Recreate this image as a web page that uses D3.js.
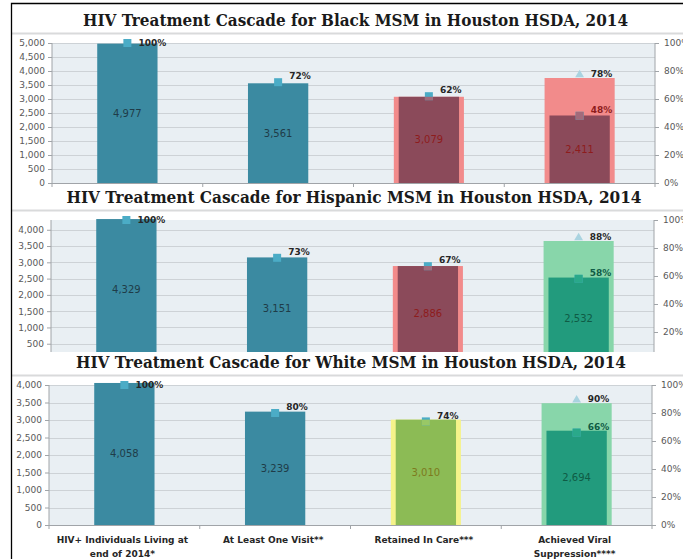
<!DOCTYPE html>
<html>
<head>
<meta charset="utf-8">
<script src="https://cdn.jsdelivr.net/npm/d3@7"></script>
<style>
  body { margin: 0; background: #fff; }
  svg text { font-family: "DejaVu Sans", sans-serif; }
</style>
</head>
<body>
<div id="chart"></div>
<script>
// ---- data ----
var categories = ["HIV+ Individuals Living at end of 2014*", "At Least One Visit**", "Retained In Care***", "Achieved Viral Suppression****"];
var categoryLines = [["HIV+ Individuals Living at", "end of 2014*"], ["At Least One Visit**"], ["Retained In Care***"], ["Achieved Viral", "Suppression****"]];
var titles = ["HIV Treatment Cascade for Black MSM in Houston HSDA, 2014",
              "HIV Treatment Cascade for Hispanic MSM in Houston HSDA, 2014",
              "HIV Treatment Cascade for White MSM in Houston HSDA, 2014"];
var blackCounts = [4977, 3561, 3079, 2411];
var hispanicCounts = [4329, 3151, 2886, 2532];
var whiteCounts = [4058, 3239, 3010, 2694];
var blackPct = [100, 72, 62, 48];
var hispanicPct = [100, 73, 67, 58];
var whitePct = [100, 80, 74, 66];
// suppressed among those retained in care (triangle) and the wide bar behind column 4
var suppressedOfRetained = [78, 88, 90];
var highlightPct = [75, 85, 87];
var countMax = [5000, 4300, 4000];
var pctTicks = [0, 20, 40, 60, 80, 100];
// highlight colour of columns 3 and 4 in each panel
var highlights = [["pink", "pink"], ["pink", "green"], ["yellow", "green"]];

var width = 683, height = 559;
var plotH = 140, plotW = 603;
var plotTop = [43, 220, 385];
var plotLeft = [52, 51, 49];
var titleY = [26, 203, 368];
var titleX = [355.5, 354, 351];
var titleW = [545, 575, 550];
var headerTop = [4, 187, 352];

var teal = "#3b8aa1", marker = "#4bacc6";
var hl = {
  pink:   { wide: "#f28b8b", bar: "#8b4a5a", text: "#8e1c1c", mark: "#a26b7b" },
  green:  { wide: "#88d6aa", bar: "#229b7d", text: "#0f5b45", mark: "#2aa98a" },
  yellow: { wide: "#f5f38a", bar: "#8cbb55", text: "#7d7a1e", mark: "#99c866" }
};

var svg = d3.select("#chart").append("svg")
    .attr("width", width)
    .attr("height", height);

var panels = [
  { counts: blackCounts, pct: blackPct },
  { counts: hispanicCounts, pct: hispanicPct },
  { counts: whiteCounts, pct: whitePct }
];

panels.forEach(function(p, k) {
  var top = plotTop[k], left = plotLeft[k], bottom = top + plotH, right = left + plotW;
  var g = svg.append("g");

  // header strip: white, covers the bottom of the panel above
  g.append("rect")
      .attr("x", 12).attr("y", headerTop[k])
      .attr("width", width).attr("height", top - headerTop[k] - 2)
      .attr("fill", "#fff");
  g.append("text")
      .attr("x", titleX[k]).attr("y", titleY[k])
      .attr("text-anchor", "middle")
      .attr("textLength", titleW[k])
      .attr("lengthAdjust", "spacingAndGlyphs")
      .style("font-family", "'DejaVu Serif', serif")
      .style("font-weight", "bold")
      .style("font-size", "16px")
      .attr("fill", "#1a1a1a")
      .text(titles[k]);
  g.append("line")
      .attr("x1", 12).attr("x2", width)
      .attr("y1", titleY[k] + 7.5).attr("y2", titleY[k] + 7.5)
      .attr("stroke", "#d9dadb").attr("stroke-width", 2);

  var x = d3.scaleBand().domain(categories).range([left, right]);
  var y = d3.scaleLinear().domain([0, countMax[k]]).range([bottom, top]);
  var yp = d3.scaleLinear().domain([0, 100]).range([bottom, top]);
  var bw = x.bandwidth() * 0.4, ow = x.bandwidth() * 0.465;
  var cx = function(i) { return x(categories[i]) + x.bandwidth() / 2; };

  // plot background + gridlines
  g.append("rect")
      .attr("x", left).attr("y", top)
      .attr("width", plotW).attr("height", plotH)
      .attr("fill", "#e9eff3");
  var ticks = d3.range(0, countMax[k] + 1, 500);
  g.selectAll(".grid").data(ticks).enter().append("line")
      .attr("x1", left).attr("x2", right)
      .attr("y1", function(d) { return Math.round(y(d)) + 0.5; })
      .attr("y2", function(d) { return Math.round(y(d)) + 0.5; })
      .attr("stroke", "#cdd2d6");

  // bars
  p.counts.forEach(function(v, i) {
    var h = i >= 2 ? hl[highlights[k][i - 2]] : null;
    var ovTop = null;
    if (h) {
      ovTop = i == 2 ? y(v) : yp(highlightPct[k]);
      g.append("rect")
          .attr("x", cx(i) - ow / 2).attr("y", ovTop)
          .attr("width", ow).attr("height", bottom - ovTop)
          .attr("fill", h.wide);
    }
    g.append("rect")
        .attr("x", cx(i) - bw / 2).attr("y", y(v))
        .attr("width", bw).attr("height", bottom - y(v))
        .attr("fill", h ? h.bar : teal);
    g.append("text")
        .attr("x", cx(i)).attr("y", (y(v) + bottom) / 2)
        .attr("dy", "0.35em")
        .attr("text-anchor", "middle")
        .style("font-size", "10px")
        .attr("fill", h ? h.text : "#1f3c48")
        .text(d3.format(",")(v));

    // square marker for the percentage
    var my = yp(p.pct[i]);
    g.append("rect")
        .attr("x", cx(i) - 4).attr("y", my - 4)
        .attr("width", 8).attr("height", 8)
        .attr("fill", marker);
    if (h && ovTop < my + 4) {
      var t0 = Math.max(ovTop, my - 4);
      g.append("rect")
          .attr("x", cx(i) - 4).attr("y", t0)
          .attr("width", 8).attr("height", my + 4 - t0)
          .attr("fill", h.mark);
    }
    var ly = Math.max(top, my - 6);
    g.append("text")
        .attr("x", cx(i) + 11).attr("y", ly)
        .attr("dy", "0.35em")
        .style("font-size", "9px")
        .style("font-weight", "bold")
        .attr("fill", h && ly > ovTop ? h.text : "#262626")
        .text(p.pct[i] + "%");

    // triangle: suppressed among retained in care
    if (i == 3) {
      var ty = yp(suppressedOfRetained[k]);
      g.append("path")
          .attr("d", d3.symbol().type(d3.symbolTriangle).size(34))
          .attr("transform", "translate(" + cx(i) + "," + (ty + 1) + ")")
          .attr("fill", "#a9d3e0");
      g.append("text")
          .attr("x", cx(i) + 11).attr("y", ty)
          .attr("dy", "0.35em")
          .style("font-size", "9px")
          .style("font-weight", "bold")
          .attr("fill", "#262626")
          .text(suppressedOfRetained[k] + "%");
    }
  });

  // axes
  var axisColor = "#a0a4a8";
  var yAxis = g.append("g")
      .attr("transform", "translate(" + left + ",0)")
      .call(d3.axisLeft(y).tickValues(ticks).tickSize(4).tickPadding(3).tickFormat(d3.format(",")));
  var yAxisR = g.append("g")
      .attr("transform", "translate(" + right + ",0)")
      .call(d3.axisRight(yp).tickValues(pctTicks).tickSize(4).tickPadding(5).tickFormat(function(d) { return d + "%"; }));
  [yAxis, yAxisR].forEach(function(a) {
    a.select(".domain").attr("stroke", axisColor);
    a.selectAll(".tick line").attr("stroke", axisColor);
    a.selectAll(".tick text").attr("fill", "#595959").style("font-size", "9px").style("font-family", "'DejaVu Sans', sans-serif");
  });
  yAxis.select(".domain").attr("d", "M0," + top + "V" + bottom);
  yAxisR.select(".domain").attr("d", "M0," + top + "V" + bottom);

  // category axis
  g.append("line")
      .attr("x1", left - 4).attr("x2", right)
      .attr("y1", bottom + 0.5).attr("y2", bottom + 0.5)
      .attr("stroke", axisColor);
  g.selectAll(".xtick").data(categories.concat([null])).enter().append("line")
      .attr("x1", function(d) { return d ? x(d) : right; })
      .attr("x2", function(d) { return d ? x(d) : right; })
      .attr("y1", bottom).attr("y2", bottom + 4)
      .attr("stroke", axisColor);

  if (k == 2) {
    categoryLines.forEach(function(lines, i) {
      var t = g.append("text")
          .attr("text-anchor", "middle")
          .style("font-size", "9px")
          .style("font-weight", "bold")
          .attr("fill", "#262626");
      lines.forEach(function(s, j) {
        t.append("tspan")
            .attr("x", cx(i) - 2).attr("y", bottom + 18 + j * 14)
            .text(s);
      });
    });
  }
});

// frame of the pasted picture
svg.append("path")
    .attr("d", "M11.5," + height + "V3.5H" + width)
    .attr("fill", "none")
    .attr("stroke", "#000")
    .attr("stroke-width", 1.3);
</script>
</body>
</html>
